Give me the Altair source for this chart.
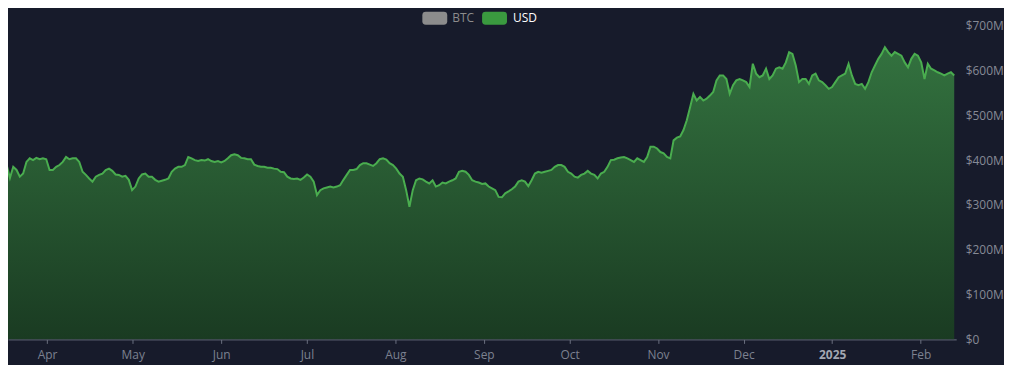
import altair as alt
import pandas as pd

# USD value (millions), chronological, mid-Mar 2024 .. mid-Feb 2025
usd_mar_may = [398, 393, 389, 360, 385, 378, 363, 370, 396, 404, 400, 405, 402, 404, 402, 378, 378, 385, 389, 396,
               407, 402, 404, 404, 396, 374, 367, 359, 352, 363, 367, 370, 378, 381, 376, 368, 367, 363, 365, 356,
               333, 341, 359, 368, 370, 363, 363, 356, 352, 354, 356, 359, 374, 381, 385, 385, 389, 407]
usd_may_aug = [404, 400, 398, 400, 399, 402, 398, 396, 398, 395, 398, 404, 411, 413, 411, 405, 404, 402, 402, 390,
               387, 385, 385, 383, 383, 381, 380, 374, 373, 363, 359, 358, 359, 356, 361, 368, 363, 352, 322, 333,
               337, 339, 341, 339, 341, 344, 356, 367, 378, 378, 380, 389, 393, 393, 390, 387, 393, 402]
usd_aug_oct = [404, 401, 393, 389, 381, 370, 363, 333, 296, 333, 355, 359, 357, 352, 348, 355, 341, 344, 350, 348,
               352, 355, 359, 374, 376, 374, 367, 355, 352, 350, 347, 348, 341, 337, 333, 318, 317, 326, 330, 335,
               341, 352, 355, 352, 342, 355, 370, 374, 372, 374, 376, 378, 385, 389, 389, 385, 374, 370]
usd_oct_dec = [363, 361, 367, 370, 376, 370, 367, 359, 370, 374, 385, 400, 401, 404, 406, 407, 404, 400, 396, 404,
               400, 396, 407, 430, 430, 426, 418, 415, 407, 404, 444, 450, 453, 467, 489, 518, 548, 533, 541, 533,
               537, 544, 552, 578, 589, 589, 581, 548, 567, 578, 581, 578, 574, 563, 615, 593, 585, 589]
usd_dec_feb = [604, 581, 589, 604, 607, 604, 618, 641, 637, 611, 574, 581, 581, 570, 589, 593, 578, 574, 567, 559,
               563, 574, 585, 589, 593, 615, 589, 570, 567, 570, 559, 574, 596, 611, 626, 637, 652, 641, 633, 641,
               637, 633, 618, 607, 626, 637, 633, 618, 581, 615, 604, 600, 596, 593, 589, 593, 596, 589]

usd = usd_mar_may + usd_may_aug + usd_aug_oct + usd_oct_dec + usd_dec_feb
dates = pd.date_range("2024-03-15 12:00", "2025-02-12 18:30", periods=len(usd))

y_ticks = [0, 100, 200, 300, 400, 500, 600, 700]
legend_names = ["BTC", "USD"]

df = pd.DataFrame({"date": dates, "usd": usd})
legend_df = pd.DataFrame({"btc_key": [legend_names[0]], "usd_key": [legend_names[1]]})

BG = "#171b2b"
FONT = "Open Sans"
# rounded "pill" drawn twice as large as its nominal symbol box (keeps the legend row short)
PILL = ("M-1.44,-1.04 L1.44,-1.04 Q2,-1.04 2,-0.48 L2,0.48 Q2,1.04 1.44,1.04 "
        "L-1.44,1.04 Q-2,1.04 -2,0.48 L-2,-0.48 Q-2,-1.04 -1.44,-1.04 Z")

jan = "month(datum.value) == 0"
x_enc = alt.X(
    "date:T",
    title=None,
    scale=alt.Scale(domain=[alt.DateTime(year=2024, month=3, date=18, hours=7),
                            alt.DateTime(year=2025, month=2, date=13, hours=11)]),
    axis=alt.Axis(
        tickCount={"interval": "month", "step": 1},
        labelExpr=f"{jan} ? timeFormat(datum.value, '%Y') : timeFormat(datum.value, '%b')",
        labelFontWeight={"condition": {"test": jan, "value": "bold"}, "value": "normal"},
        labelColor={"condition": {"test": jan, "value": "#a3a7b2"}, "value": "#7c8190"},
        labelFont=FONT, labelFontSize=12, labelPadding=6, labelFlush=False,
        grid=False, domainColor="#6b7080", tickColor="#6b7080", tickSize=4,
    ),
)
y_enc = alt.Y(
    "usd:Q",
    title=None,
    scale=alt.Scale(domain=[0, 737.8], nice=False, zero=True),
    axis=alt.Axis(
        orient="right", values=y_ticks,
        labelExpr="datum.value == 0 ? '$0' : '$' + datum.value + 'M'",
        labelColor="#868a96", labelFont=FONT, labelFontSize=12, labelPadding=9,
        labelAlign="left", ticks=False, domain=False, grid=False,
    ),
)

gradient = alt.Gradient(
    gradient="linear",
    stops=[alt.GradientStop(color="#33723f", offset=0),
           alt.GradientStop(color="#1a3b22", offset=1)],
    x1=1, x2=1, y1=0, y2=1,
)

area = alt.Chart(df).mark_area(color=gradient, clip=True).encode(x=x_enc, y=y_enc)
line = alt.Chart(df).mark_line(color="#4aad4f", strokeWidth=2, clip=True).encode(x=x_enc, y=y_enc)

leg_common = dict(title=None, orient="none", legendY=3, symbolType=PILL, symbolSize=156.25,
                  symbolStrokeWidth=0, symbolOpacity=1, labelFont=FONT, labelFontSize=12, padding=0)

btc_leg = alt.Chart(legend_df).mark_point(filled=True, shape=PILL, color="#8c8c8c", opacity=1).encode(
    shape=alt.Shape("btc_key:N", scale=alt.Scale(domain=[legend_names[0]], range=[PILL]),
                    legend=alt.Legend(legendX=422, symbolFillColor="#8c8c8c", labelColor="#8c8c8c",
                                      labelOffset=11, **leg_common))
).transform_filter("false")

usd_leg = alt.Chart(legend_df).mark_point(filled=True, shape=PILL, opacity=1).encode(
    color=alt.Color("usd_key:N", scale=alt.Scale(domain=[legend_names[1]], range=["#3a9a3f"]),
                    legend=alt.Legend(legendX=482, labelColor="#ffffff", labelOffset=12, **leg_common))
).transform_filter("false")

chart = (
    alt.layer(area, line, btc_leg, usd_leg)
    .properties(width=952, height=332, background=BG,
                padding={"left": 0, "top": 0, "right": 0, "bottom": 4})
    .configure_view(strokeWidth=0)
)

chart.save("out.html", embed_options={"renderer": "svg", "actions": False})
